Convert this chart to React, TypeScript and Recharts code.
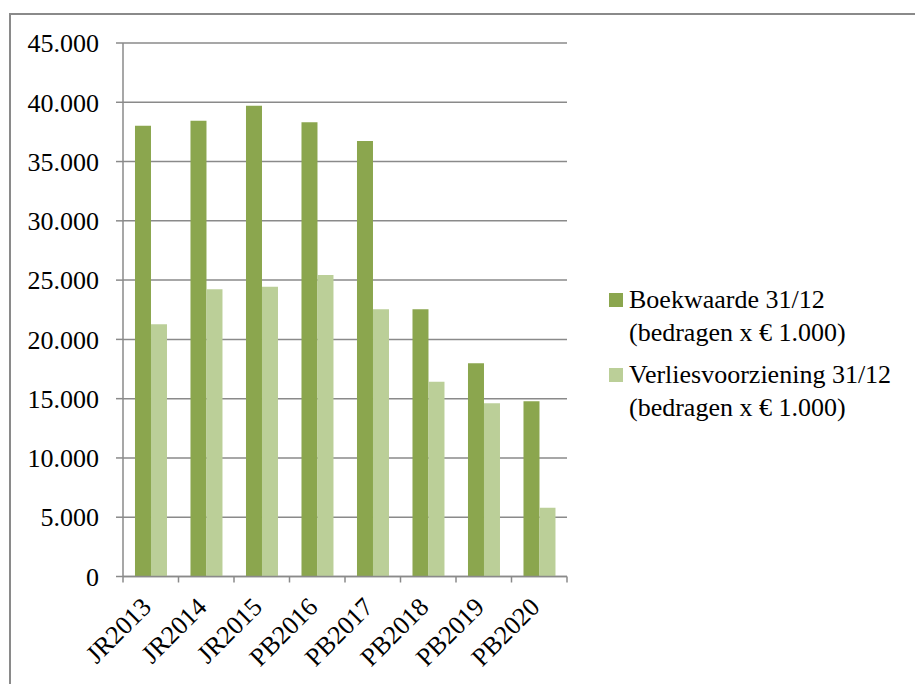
import React from 'react'
import {
    BarChart,
    Bar,
    XAxis,
    YAxis,
    CartesianGrid,
    Legend
} from 'recharts'

const categories = ['JR2013', 'JR2014', 'JR2015', 'PB2016', 'PB2017', 'PB2018', 'PB2019', 'PB2020']
const boekwaarde = [38020, 38440, 39710, 38310, 36730, 22540, 17980, 14780]
const verliesvoorziening = [21270, 24220, 24440, 25430, 22540, 16430, 14610, 5800]
const yTicks = [0, 5000, 10000, 15000, 20000, 25000, 30000, 35000, 40000, 45000]

const seriesNames = [
    'Boekwaarde 31/12 (bedragen x € 1.000)',
    'Verliesvoorziening 31/12 (bedragen x € 1.000)'
]

const data = categories.map((c, i) => ({
    name: c,
    boek: boekwaarde[i],
    verlies: verliesvoorziening[i]
}))

const FONT = '"Liberation Serif", "Times New Roman", serif'
const GREY = '#8a8a8a'
const DARK = '#8ba64e'
const LIGHT = '#bbcf98'

const W = 915
const H = 684
const M = { top: 43, right: 348, bottom: 0, left: 10 }
const Y_AXIS_W = 113
const X_AXIS_H = 107.5
const halfBand = (W - M.left - Y_AXIS_W - M.right) / categories.length / 2

const fmt = (v: number) => v === 0 ? '0' : v.toLocaleString('de-DE')

function XTick(props: any) {
    const { x, y, payload, index } = props
    const last = index === categories.length - 1
    return (
        <g>
            <line x1={x - halfBand} x2={x - halfBand} y1={y} y2={y + 6} stroke={GREY} strokeWidth={1.5} />
            {last && <line x1={x + halfBand} x2={x + halfBand} y1={y} y2={y + 6} stroke={GREY} strokeWidth={1.5} />}
            <g transform={`translate(${x + 2},${y + 32})`}>
                <text textAnchor="end" transform="rotate(-45)" fontFamily={FONT} fontSize={26} fill="#000">
                    {payload.value}
                </text>
            </g>
        </g>
    )
}

function LegendBox(props: any) {
    const items = props.payload || []
    return (
        <div style={{ fontFamily: FONT, fontSize: 26, lineHeight: '33px', color: '#000' }}>
            {items.map((it: any, i: number) => {
                const [first, ...rest] = String(it.value).split(' (')
                return (
                    <div key={i} style={{ position: 'relative', paddingLeft: 24, marginBottom: 9 }}>
                        <span style={{ position: 'absolute', left: 4, top: 10, width: 14, height: 14, background: it.color }} />
                        <div>{first}</div>
                        <div>({rest.join(' (')}</div>
                    </div>
                )
            })}
        </div>
    )
}

export default function App() {
    return (
        <>
            <div style={{
                position: 'absolute', left: 9, top: 13, width: W - 9, height: H - 13,
                boxSizing: 'border-box', borderTop: `2px solid ${GREY}`, borderLeft: `2px solid ${GREY}`
            }} />
            <div style={{ position: 'absolute', left: 0, top: 0, width: W, height: H }}>
                <BarChart width={W} height={H} data={data} margin={M} barCategoryGap="21.6%" barGap={0}>
                    <CartesianGrid vertical={false} stroke={GREY} strokeWidth={1.5} />
                    <XAxis
                        dataKey="name"
                        height={X_AXIS_H}
                        axisLine={{ stroke: GREY, strokeWidth: 1.5 }}
                        tickLine={false}
                        tickSize={0}
                        tickMargin={0}
                        interval={0}
                        tick={<XTick />}
                    />
                    <YAxis
                        width={Y_AXIS_W}
                        domain={[0, 45000]}
                        ticks={yTicks}
                        interval={0}
                        tickFormatter={fmt}
                        axisLine={{ stroke: GREY, strokeWidth: 1.5 }}
                        tickLine={{ stroke: GREY, strokeWidth: 1.5 }}
                        tickSize={7}
                        tickMargin={17}
                        tick={{ fontFamily: FONT, fontSize: 26, fill: '#000' }}
                    />
                    <Legend
                        layout="vertical"
                        align="center"
                        verticalAlign="middle"
                        content={<LegendBox />}
                        wrapperStyle={{ left: 605, top: 283, width: 300 }}
                    />
                    <Bar dataKey="boek" name={seriesNames[0]} fill={DARK} isAnimationActive={false} />
                    <Bar dataKey="verlies" name={seriesNames[1]} fill={LIGHT} isAnimationActive={false} />
                </BarChart>
            </div>
        </>
    )
}
